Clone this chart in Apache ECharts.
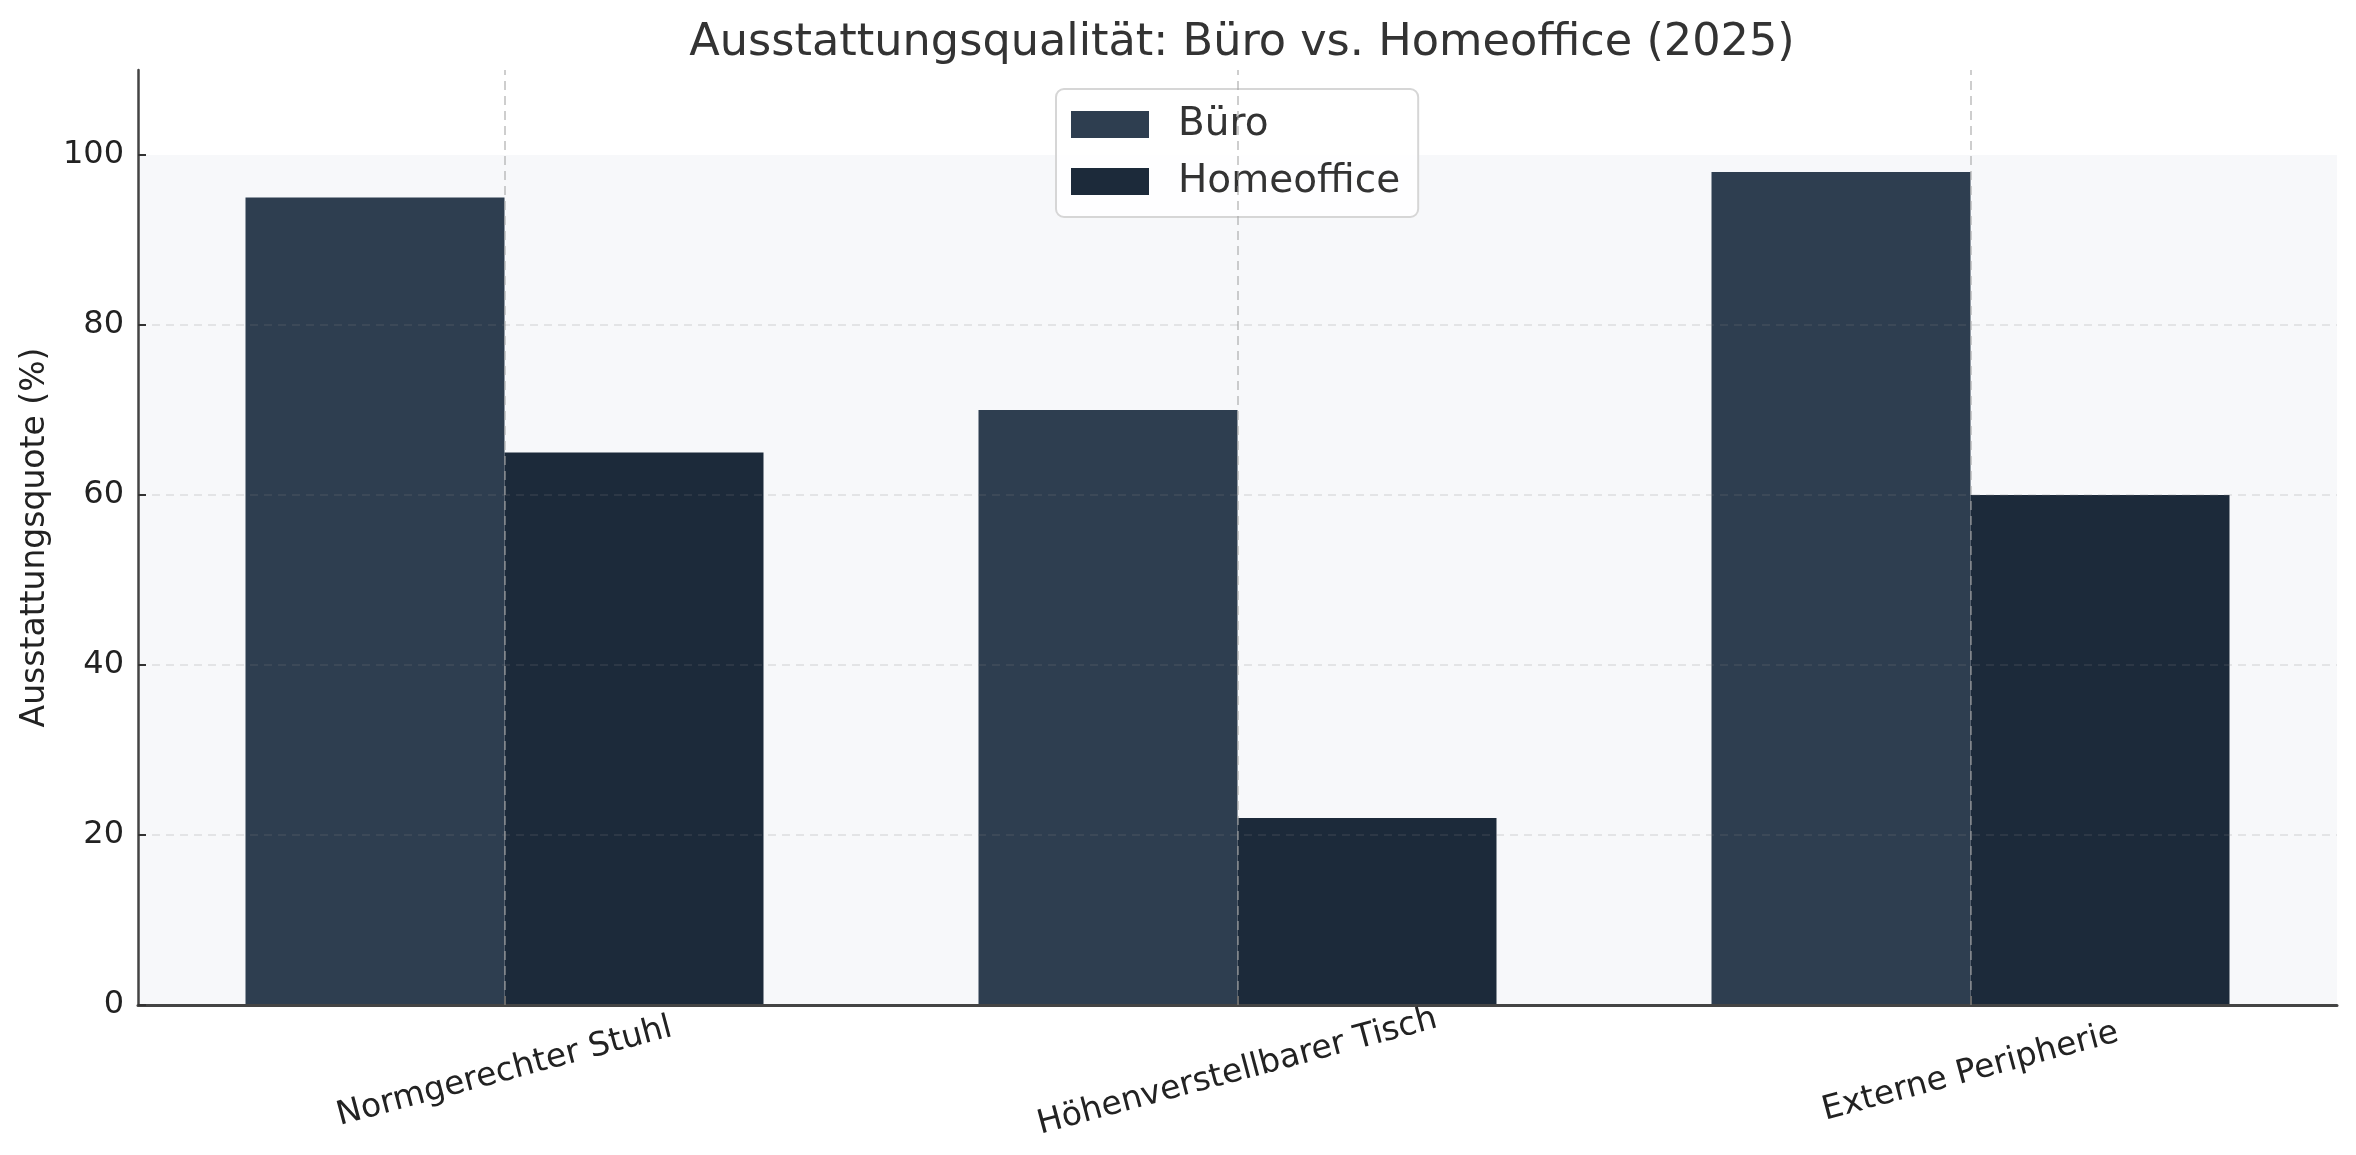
<!DOCTYPE html>
<html>
<head>
<meta charset="utf-8">
<script src="https://cdn.jsdelivr.net/npm/echarts@6/dist/echarts.min.js"></script>
<style>
  html, body { margin: 0; padding: 0; background: #fff; }
  #chart { width: 2356px; height: 1155px; }
</style>
</head>
<body>
<div id="chart"></div>
<script>
// Kategorien und Werte
const categories = ['Normgerechter Stuhl', 'Höhenverstellbarer Tisch', 'Externe Peripherie']
const bueroValues = [95, 70, 98]
const homeofficeValues = [65, 22, 60]
const yTicks = [0, 20, 40, 60, 80, 100]

const font = 'DejaVu Sans'
const chart = echarts.init(document.getElementById('chart'))

const option = {
  backgroundColor: '#ffffff',
  animation: false,
  textStyle: { fontFamily: font },
  title: {
    text: 'Ausstattungsqualität: Büro vs. Homeoffice (2025)',
    left: 1237,
    textAlign: 'center',
    top: 16,
    textStyle: { fontFamily: font, fontSize: 44.6, fontWeight: 'normal', color: '#333333' }
  },
  legend: {
    data: ['Büro', 'Homeoffice'],
    orient: 'vertical',
    icon: 'rect',
    left: 1056,
    top: 89,
    padding: [16, 18, 16, 15],
    itemWidth: 78,
    itemHeight: 27,
    itemGap: 18,
    backgroundColor: 'rgba(255,255,255,0.85)',
    borderColor: '#d6d6d6',
    borderWidth: 2,
    borderRadius: 8,
    textStyle: { fontFamily: font, fontSize: 39, color: '#333333', lineHeight: 39, padding: [0, 0, 0, 24] }
  },
  grid: { left: 138, right: 19, top: 70, bottom: 150 },
  xAxis: {
    type: 'category',
    data: categories,
    z: 3,
    axisLine: { lineStyle: { color: '#444444', width: 3 } },
    axisTick: { show: true, inside: true, alignWithLabel: true, length: 9, lineStyle: { color: '#222222', width: 2 } },
    axisLabel: {
      rotate: 15,
      align: 'center',
      verticalAlign: 'middle',
      margin: 67,
      fontFamily: font,
      fontSize: 33,
      color: '#222222'
    },
    splitLine: { show: false }
  },
  yAxis: {
    type: 'value',
    min: 0,
    max: 110,
    interval: 20,
    z: 3,
    name: 'Ausstattungsquote (%)',
    nameLocation: 'middle',
    nameGap: 86,
    nameTextStyle: { fontFamily: font, fontSize: 33, color: '#222222' },
    axisLine: { show: true, lineStyle: { color: '#444444', width: 2.5 } },
    axisTick: { show: true, inside: true, length: 8, customValues: yTicks, lineStyle: { color: '#333333', width: 2 } },
    axisLabel: { customValues: yTicks, fontFamily: font, fontSize: 32, color: '#222222', margin: 14 },
    splitLine: {
      show: true,
      showMaxLine: false,
      lineStyle: { color: 'rgba(130,130,130,0.17)', width: 2, type: [8, 6] }
    }
  },
  series: [
    {
      // Hintergrundfläche 0–100
      name: 'bg',
      type: 'line',
      data: [],
      z: 0,
      silent: true,
      markArea: {
        silent: true,
        itemStyle: { color: '#f7f8fa' },
        data: [[{ yAxis: 0 }, { yAxis: 100 }]]
      }
    },
    {
      name: 'Büro',
      type: 'bar',
      data: bueroValues,
      barWidth: 259,
      barGap: '0%',
      itemStyle: { color: '#2e3e50' }
    },
    {
      name: 'Homeoffice',
      type: 'bar',
      data: homeofficeValues,
      barWidth: 259,
      barGap: '0%',
      itemStyle: { color: '#1c2a3a' }
    },
    {
      // senkrechte Gitterlinien an den Kategorien
      name: 'vgrid',
      type: 'line',
      data: [],
      z: 4,
      silent: true,
      markLine: {
        silent: true,
        symbol: 'none',
        label: { show: false },
        lineStyle: { color: 'rgba(165,165,165,0.55)', width: 2, type: [9, 6] },
        data: categories.map(function (c) { return { xAxis: c } })
      }
    }
  ]
}

chart.setOption(option)
</script>
</body>
</html>
